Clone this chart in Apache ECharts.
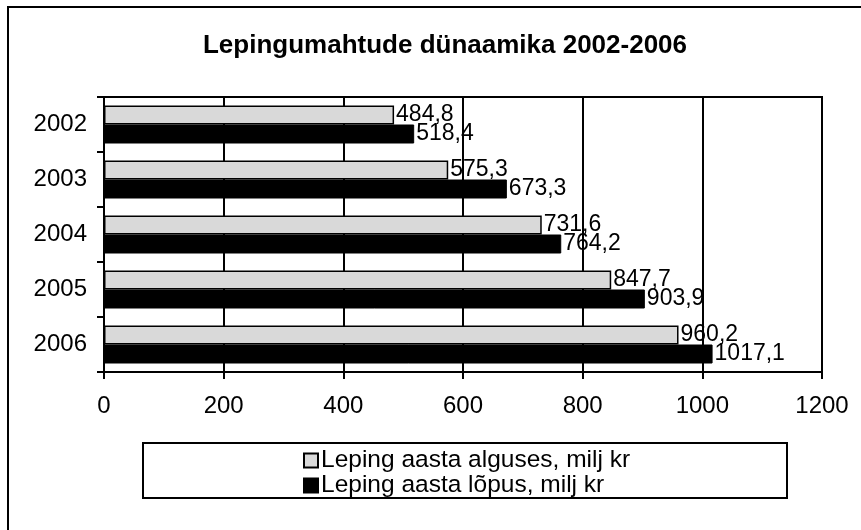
<!DOCTYPE html>
<html lang="et">
<head>
    <meta charset="UTF-8">
    <title>Lepingumahtude dünaamika 2002-2006</title>
    <style>
        html, body { margin: 0; padding: 0; background: #fff; }
        #chart { width: 861px; height: 530px; }
    </style>
</head>
<body>
<div id="chart"></div>
<script src="https://cdn.jsdelivr.net/npm/echarts@6/dist/echarts.min.js"></script>
<script>
    // andmed
    var years = ['2002', '2003', '2004', '2005', '2006'];
    var alguses = [484.8, 575.3, 731.6, 847.7, 960.2];
    var lopus = [518.4, 673.3, 764.2, 903.9, 1017.1];
    var seriesNames = ['Leping aasta alguses, milj kr', 'Leping aasta lõpus, milj kr'];

    var font = "'Liberation Sans', Arial, sans-serif";

    function commaLabel(p) {
        return String(p.value).replace('.', ',');
    }

    var chart = echarts.init(document.getElementById('chart'));

    var option = {
        animation: false,
        backgroundColor: '#fff',
        textStyle: { fontFamily: font, color: '#000' },
        title: {
            text: 'Lepingumahtude dünaamika 2002-2006',
            left: 440,
            top: 28,
            textAlign: 'center',
            textStyle: { fontFamily: font, fontSize: 26, fontWeight: 'bold', color: '#000' }
        },
        graphic: [
            {
                type: 'rect',
                shape: { x: 8, y: 7, width: 900, height: 600 },
                style: { fill: null, stroke: '#000', lineWidth: 2 },
                silent: true
            },
            {
                type: 'rect',
                shape: { x: 143, y: 443, width: 644, height: 55 },
                style: { fill: '#fff', stroke: '#000', lineWidth: 2 },
                silent: true,
                z: -1
            }
        ],
        legend: {
            orient: 'vertical',
            left: 303,
            top: 448,
            padding: 0,
            itemGap: 0,
            itemWidth: 14,
            itemHeight: 14,
            icon: 'rect',
            textStyle: { fontFamily: font, fontSize: 24.5, color: '#000', lineHeight: 20, padding: [0, 0, 0, -2] },
            data: seriesNames
        },
        grid: {
            left: 104,
            right: 39,
            top: 97,
            bottom: 158,
            show: true,
            borderColor: '#000',
            borderWidth: 2
        },
        xAxis: {
            type: 'value',
            min: 0,
            max: 1200,
            interval: 200,
            axisLine: { show: true, lineStyle: { color: '#000', width: 2 } },
            axisTick: { show: true, length: 7, lineStyle: { color: '#000', width: 2 } },
            axisLabel: {
                fontFamily: font, fontSize: 24, color: '#000', margin: 22,
                formatter: function (v) { return String(v); }
            },
            splitLine: { show: true, lineStyle: { color: '#000', width: 2 } }
        },
        yAxis: {
            type: 'category',
            inverse: true,
            data: years,
            axisLine: { show: true, lineStyle: { color: '#000', width: 2 } },
            axisTick: { show: true, length: 7, lineStyle: { color: '#000', width: 2 } },
            axisLabel: { fontFamily: font, fontSize: 24, color: '#000', margin: 17 },
            splitLine: { show: false }
        },
        series: [
            {
                name: seriesNames[0],
                type: 'bar',
                data: alguses,
                barWidth: 19,
                barGap: '0%',
                itemStyle: { color: '#d9d9d9', borderColor: '#000', borderWidth: 1.5 },
                label: {
                    show: true,
                    position: 'right',
                    distance: 2,
                    formatter: commaLabel,
                    fontFamily: font,
                    fontSize: 23,
                    color: '#000'
                },
                z: 3
            },
            {
                name: seriesNames[1],
                type: 'bar',
                data: lopus,
                barWidth: 19,
                itemStyle: { color: '#000', borderColor: '#000', borderWidth: 1 },
                label: {
                    show: true,
                    position: 'right',
                    distance: 2,
                    formatter: commaLabel,
                    fontFamily: font,
                    fontSize: 23,
                    color: '#000'
                },
                z: 3
            }
        ]
    };

    chart.setOption(option);
</script>
</body>
</html>
